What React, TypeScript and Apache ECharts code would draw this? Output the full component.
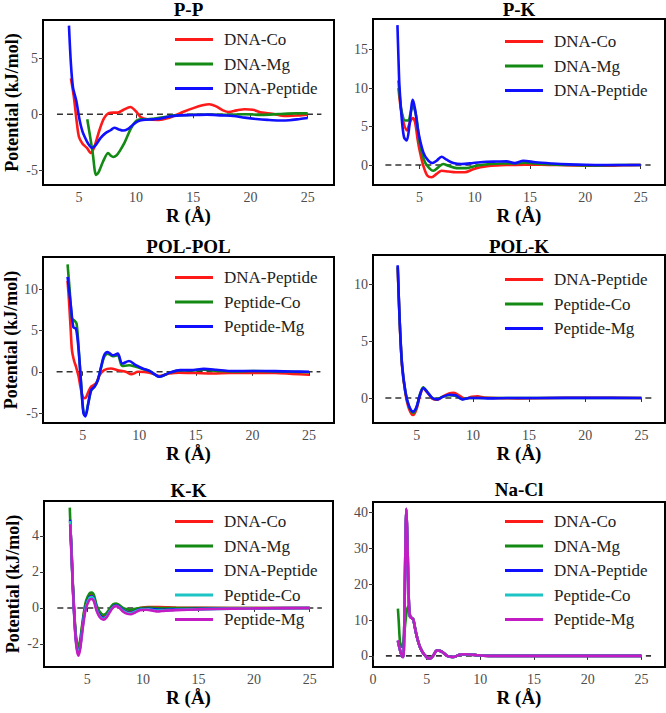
import React, { useEffect, useRef } from 'react';
import * as echarts from 'echarts';

type Pt = [number, number];

// ---------- DATA ----------
const panelTitles = ['P-P', 'P-K', 'POL-POL', 'POL-K', 'K-K', 'Na-Cl'];

// P-P
const ppDnaCo: Pt[] = [[4.3, 3.2], [4.55, 1.6], [4.8, -0.6], [5.0, -2.0], [5.3, -2.6], [5.7, -3.0], [6.05, -3.45], [6.35, -2.9], [6.8, -1.4], [7.2, -0.35], [7.6, 0.1], [8.0, 0.15], [8.4, 0.15], [8.9, 0.4], [9.5, 0.65], [10.0, 0.25], [10.4, -0.25], [11.0, -0.45], [12.0, -0.5], [12.9, -0.3], [13.5, -0.05], [14.2, 0.25], [15.0, 0.55], [15.8, 0.8], [16.4, 0.9], [17.0, 0.7], [17.6, 0.35], [18.1, 0.2], [18.8, 0.35], [19.5, 0.45], [20.2, 0.4], [21.0, 0.15], [21.9, 0.05], [22.6, -0.1], [23.3, -0.15], [24.2, -0.1], [25.0, -0.03]];
const ppDnaMg: Pt[] = [[5.73, -0.45], [5.95, -1.8], [6.2, -3.4], [6.5, -5.4], [6.7, -5.2], [6.95, -4.6], [7.25, -3.9], [7.55, -3.45], [7.8, -3.7], [8.0, -3.8], [8.3, -3.65], [8.55, -3.3], [9.0, -2.5], [9.55, -1.25], [10.0, -0.6], [10.4, -0.45], [11.0, -0.45], [11.5, -0.4], [12.5, -0.25], [13.5, -0.1], [15.0, -0.05], [16.5, -0.02], [18.0, -0.05], [19.5, 0.0], [21.0, -0.05], [22.5, 0.02], [24.0, 0.08], [25.0, 0.08]];
const ppDnaPeptide: Pt[] = [[4.13, 7.9], [4.3, 4.5], [4.48, 2.4], [4.77, 1.2], [5.06, -0.5], [5.3, -1.5], [5.5, -2.0], [5.8, -2.6], [6.15, -3.0], [6.5, -2.7], [6.9, -2.1], [7.3, -1.7], [7.8, -1.4], [8.1, -1.2], [8.5, -1.35], [8.85, -1.45], [9.3, -1.3], [9.7, -0.95], [10.1, -0.65], [10.6, -0.5], [11.5, -0.45], [12.0, -0.4], [12.9, -0.2], [13.8, -0.1], [14.8, -0.07], [16.2, -0.03], [17.5, -0.1], [18.5, -0.15], [19.5, -0.3], [20.5, -0.42], [21.5, -0.5], [22.5, -0.55], [23.4, -0.53], [24.3, -0.42], [25.0, -0.33]];

// P-K
const pkDnaCo: Pt[] = [[3.1, 10.0], [3.3, 7.5], [3.55, 5.6], [3.85, 4.5], [4.15, 5.6], [4.4, 6.1], [4.6, 5.6], [4.85, 3.2], [5.05, 1.65], [5.35, -0.1], [5.7, -1.35], [6.1, -1.6], [6.55, -1.15], [7.0, -0.75], [7.6, -0.85], [8.3, -0.95], [9.1, -0.95], [9.85, -0.55], [10.5, -0.3], [11.1, -0.15], [12.0, -0.05], [13.0, 0.0], [14.5, 0.05], [16.0, 0.05], [17.5, 0.0], [19.0, -0.05], [20.5, -0.1], [22.0, -0.1], [23.5, -0.03], [25.0, 0.0]];
const pkDnaMg: Pt[] = [[3.1, 11.0], [3.25, 8.5], [3.4, 6.9], [3.7, 5.8], [4.0, 5.8], [4.2, 6.8], [4.4, 7.7], [4.7, 6.4], [5.05, 2.7], [5.5, 0.35], [5.95, -0.5], [6.25, -0.75], [6.7, -0.3], [7.15, 0.13], [7.6, -0.1], [8.35, -0.4], [9.25, -0.4], [10.15, -0.1], [11.4, 0.13], [12.5, 0.2], [13.5, 0.2], [14.5, 0.3], [15.5, 0.2], [17.0, 0.08], [19.0, 0.0], [21.0, -0.05], [23.0, 0.0], [25.0, 0.0]];
const pkDnaPeptide: Pt[] = [[3.01, 18.2], [3.1, 14.0], [3.19, 10.3], [3.4, 6.0], [3.61, 3.6], [3.85, 3.2], [4.09, 5.1], [4.4, 8.5], [4.6, 7.3], [4.9, 4.3], [5.35, 1.65], [5.8, 0.56], [6.19, 0.26], [6.55, 0.56], [7.0, 1.08], [7.45, 0.7], [8.06, 0.26], [8.8, 0.13], [9.86, 0.26], [11.07, 0.43], [12.0, 0.45], [12.9, 0.47], [13.6, 0.25], [14.4, 0.55], [15.5, 0.35], [17.0, 0.2], [18.5, 0.09], [20.0, 0.03], [21.5, 0.0], [23.0, 0.0], [25.0, 0.0]];

// POL-POL
const polpolDnaPeptide: Pt[] = [[3.67, 11.0], [3.8, 8.5], [3.95, 5.0], [4.06, 2.6], [4.25, 1.3], [4.42, 0.6], [4.65, -0.6], [4.86, -2.2], [5.1, -3.2], [5.3, -3.1], [5.45, -2.6], [5.75, -1.8], [6.19, -1.4], [6.5, -0.4], [6.9, 0.2], [7.5, 0.4], [8.1, 0.2], [8.8, 0.0], [9.3, -0.3], [9.9, 0.0], [10.9, -0.1], [11.8, -0.5], [12.7, -0.2], [13.5, -0.1], [15.0, -0.15], [16.5, -0.2], [18.0, -0.15], [20.0, -0.15], [22.0, -0.15], [23.5, -0.25], [25.0, -0.35]];
const polpolPeptideCo: Pt[] = [[3.67, 13.0], [3.85, 10.0], [4.05, 6.5], [4.27, 6.2], [4.47, 5.8], [4.65, 2.8], [4.86, -1.3], [5.07, -4.8], [5.25, -5.2], [5.5, -3.8], [5.75, -2.3], [6.05, -1.8], [6.34, -1.0], [6.63, 0.5], [6.9, 1.8], [7.2, 2.2], [7.65, 1.9], [8.1, 2.0], [8.5, 0.7], [9.1, 0.8], [9.7, 0.6], [10.3, 0.35], [10.9, 0.1], [11.8, -0.6], [12.7, -0.1], [13.6, 0.15], [14.5, 0.15], [15.7, 0.25], [17.0, 0.1], [18.5, 0.05], [20.0, 0.1], [22.0, 0.05], [25.0, -0.05]];
const polpolPeptideMg: Pt[] = [[3.67, 11.5], [3.97, 7.9], [4.18, 5.4], [4.42, 5.2], [4.65, 2.6], [4.86, -1.4], [5.07, -5.0], [5.25, -5.4], [5.5, -3.8], [5.75, -2.2], [6.05, -1.8], [6.34, -1.0], [6.63, 0.6], [6.9, 2.0], [7.2, 2.4], [7.65, 2.0], [8.1, 2.2], [8.5, 1.0], [9.1, 1.3], [9.7, 0.8], [10.3, 0.4], [10.9, 0.12], [11.8, -0.6], [12.7, -0.1], [13.6, 0.2], [14.6, 0.2], [15.7, 0.35], [16.8, 0.25], [18.0, 0.1], [20.0, 0.1], [22.0, 0.08], [23.5, 0.03], [25.0, 0.0]];

// POL-K
const polkDnaPeptide: Pt[] = [[3.3, 11.5], [3.48, 6.6], [3.69, 2.8], [3.99, 0.4], [4.29, -0.9], [4.67, -1.5], [4.97, -1.0], [5.27, 0.15], [5.57, 0.85], [5.93, 0.5], [6.38, -0.05], [6.82, -0.15], [7.27, 0.1], [7.87, 0.4], [8.3, 0.45], [8.8, 0.2], [9.3, -0.05], [9.9, 0.1], [10.4, 0.15], [11.0, 0.05], [12.0, 0.0], [14.0, -0.03], [17.0, 0.0], [20.0, 0.03], [25.0, 0.0]];
const polkPeptideCo: Pt[] = [[3.3, 11.6], [3.48, 6.7], [3.69, 2.9], [3.99, 0.5], [4.29, -0.7], [4.67, -1.3], [4.97, -0.85], [5.27, 0.3], [5.57, 0.95], [5.93, 0.55], [6.38, 0.0], [6.82, -0.1], [7.27, 0.1], [7.87, 0.25], [8.46, 0.2], [9.06, -0.1], [9.65, 0.0], [10.5, 0.0], [12.0, 0.0], [16.0, 0.0], [20.0, 0.0], [25.0, 0.0]];
const polkPeptideMg: Pt[] = [[3.3, 11.7], [3.48, 6.7], [3.69, 2.9], [3.99, 0.53], [4.29, -0.65], [4.67, -1.2], [4.97, -0.8], [5.27, 0.24], [5.57, 0.88], [5.93, 0.53], [6.38, 0.0], [6.82, -0.12], [7.27, 0.09], [7.87, 0.29], [8.46, 0.24], [9.06, -0.12], [9.65, 0.0], [10.5, 0.0], [11.5, -0.03], [13.0, 0.0], [16.0, 0.0], [20.0, 0.02], [25.0, 0.0]];

// K-K
const kkDnaCo: Pt[] = [[3.45, 4.8], [3.6, 2.9], [3.69, 1.3], [3.9, -1.1], [4.05, -2.0], [4.2, -2.25], [4.35, -1.95], [4.5, -1.2], [4.7, -0.3], [4.89, 0.3], [5.19, 0.7], [5.4, 0.75], [5.6, 0.6], [5.83, 0.05], [6.1, -0.3], [6.45, -0.45], [6.7, -0.4], [7.0, -0.1], [7.33, 0.12], [7.6, 0.18], [7.9, 0.1], [8.2, -0.05], [8.6, -0.15], [8.9, -0.18], [9.3, -0.1], [9.72, 0.0], [10.5, 0.05], [11.5, 0.05], [13.0, 0.02], [18.0, 0.0], [25.0, 0.0]];
const kkDnaMg: Pt[] = [[3.42, 5.57], [3.55, 3.3], [3.69, 1.4], [3.9, -1.0], [4.05, -1.9], [4.2, -2.1], [4.35, -1.8], [4.5, -1.1], [4.7, -0.2], [4.89, 0.4], [5.19, 0.8], [5.4, 0.85], [5.6, 0.7], [5.83, 0.15], [6.1, -0.2], [6.45, -0.38], [6.7, -0.3], [7.0, -0.05], [7.33, 0.2], [7.6, 0.25], [7.9, 0.15], [8.2, 0.0], [8.6, -0.08], [8.9, -0.1], [9.3, -0.05], [9.72, 0.0], [10.5, 0.02], [11.5, 0.0], [13.0, 0.0], [18.0, 0.0], [25.0, 0.0]];
const kkDnaPeptide: Pt[] = [[3.45, 4.9], [3.6, 2.8], [3.69, 1.25], [3.9, -1.2], [4.05, -2.15], [4.2, -2.45], [4.35, -2.15], [4.5, -1.4], [4.7, -0.45], [4.89, 0.15], [5.19, 0.6], [5.4, 0.65], [5.6, 0.5], [5.83, -0.05], [6.1, -0.4], [6.45, -0.55], [6.7, -0.48], [7.0, -0.18], [7.33, 0.08], [7.6, 0.15], [7.9, 0.05], [8.2, -0.12], [8.6, -0.25], [8.9, -0.27], [9.3, -0.18], [9.72, -0.08], [10.5, -0.05], [11.5, -0.1], [13.0, -0.08], [18.0, -0.03], [25.0, 0.0]];
const kkPeptideCo: Pt[] = [[3.45, 4.83], [3.6, 2.7], [3.69, 1.2], [3.9, -1.25], [4.05, -2.2], [4.2, -2.5], [4.35, -2.2], [4.5, -1.45], [4.7, -0.5], [4.89, 0.1], [5.19, 0.55], [5.4, 0.6], [5.6, 0.45], [5.83, -0.1], [6.1, -0.45], [6.45, -0.6], [6.7, -0.5], [7.0, -0.2], [7.33, 0.05], [7.6, 0.12], [7.9, 0.02], [8.2, -0.15], [8.6, -0.28], [8.9, -0.3], [9.3, -0.2], [9.72, -0.1], [10.5, -0.08], [11.3, -0.15], [13.0, -0.1], [18.0, -0.04], [25.0, 0.0]];
const kkPeptideMg: Pt[] = [[3.45, 4.65], [3.6, 2.6], [3.69, 1.2], [3.9, -1.3], [4.05, -2.3], [4.2, -2.65], [4.35, -2.3], [4.5, -1.55], [4.7, -0.6], [4.89, 0.0], [5.19, 0.45], [5.4, 0.5], [5.6, 0.35], [5.83, -0.15], [6.1, -0.5], [6.45, -0.65], [6.7, -0.55], [7.0, -0.25], [7.33, 0.03], [7.6, 0.1], [7.9, 0.0], [8.2, -0.2], [8.6, -0.33], [8.9, -0.35], [9.3, -0.25], [9.72, -0.13], [10.3, -0.1], [10.9, -0.15], [11.3, -0.2], [12.0, -0.15], [13.0, -0.12], [15.0, -0.08], [18.0, -0.04], [21.0, -0.02], [25.0, 0.0]];

// Na-Cl
const naclPeptideMg: Pt[] = [[2.32, 4.4], [2.45, 2.5], [2.57, 1.1], [2.72, -0.2], [2.82, -0.3], [2.9, 6.0], [2.97, 20.0], [3.05, 36.0], [3.1, 41.2], [3.17, 36.0], [3.25, 26.0], [3.33, 16.0], [3.44, 11.0], [3.6, 10.6], [3.75, 10.2], [3.9, 8.0], [4.05, 5.8], [4.25, 3.6], [4.43, 2.1], [4.65, 0.9], [4.89, 0.0], [5.1, -0.6], [5.3, -0.75], [5.5, -0.3], [5.66, 0.3], [5.85, 1.3], [5.97, 1.6], [6.2, 1.45], [6.44, 1.1], [6.7, 0.5], [6.9, 0.0], [7.2, -0.25], [7.52, -0.3], [7.8, 0.0], [8.14, 0.4], [8.6, 0.45], [9.07, 0.4], [9.7, 0.2], [10.3, 0.05], [11.5, 0.0], [14.0, 0.0], [18.0, 0.0], [25.0, 0.0]];
const naclDnaCo: Pt[] = [[2.32, 4.2], [2.45, 2.4], [2.57, 1.0], [2.72, -0.2], [2.82, -0.3], [2.9, 6.0], [2.97, 20.0], [3.05, 36.0], [3.1, 41.0], [3.17, 36.0], [3.25, 26.0], [3.33, 16.0], [3.44, 11.0], [3.6, 10.6], [3.75, 10.2], [3.9, 8.0], [4.05, 5.8], [4.25, 3.6], [4.43, 2.1], [4.65, 0.9], [4.89, 0.0], [5.1, -0.6], [5.3, -0.75], [5.5, -0.3], [5.66, 0.3], [5.85, 1.3], [5.97, 1.6], [6.2, 1.45], [6.44, 1.1], [6.7, 0.5], [6.9, 0.0], [7.2, -0.25], [7.52, -0.3], [7.8, 0.0], [8.14, 0.4], [8.6, 0.45], [9.07, 0.4], [9.7, 0.2], [10.3, 0.05], [11.5, 0.0], [14.0, 0.0], [18.0, 0.0], [25.0, 0.0]];
const naclDnaMg: Pt[] = [[2.32, 13.2], [2.4, 9.5], [2.51, 4.0], [2.62, 2.7], [2.72, 2.5], [2.85, 4.5], [2.97, 8.0], [3.1, 11.5], [3.25, 13.8], [3.34, 13.5], [3.45, 11.5], [3.6, 10.6], [3.75, 10.2], [3.9, 8.0], [4.05, 5.8], [4.25, 3.6], [4.43, 2.1], [4.65, 0.9], [4.89, 0.0], [5.1, -0.6], [5.3, -0.75], [5.5, -0.3], [5.66, 0.3], [5.85, 1.3], [5.97, 1.6], [6.2, 1.45], [6.44, 1.1], [6.7, 0.5], [6.9, 0.0], [7.2, -0.25], [7.52, -0.3], [7.8, 0.0], [8.14, 0.4], [8.6, 0.45], [9.07, 0.4], [9.7, 0.2], [10.3, 0.05], [11.5, 0.0], [14.0, 0.0], [18.0, 0.0], [25.0, 0.0]];
const naclDnaPeptide: Pt[] = naclDnaCo;
const naclPeptideCo: Pt[] = naclDnaCo;

// series names per panel
const namesA = ['DNA-Co', 'DNA-Mg', 'DNA-Peptide'];
const namesB = ['DNA-Peptide', 'Peptide-Co', 'Peptide-Mg'];
const namesC = ['DNA-Co', 'DNA-Mg', 'DNA-Peptide', 'Peptide-Co', 'Peptide-Mg'];

const panelSeries: Pt[][][] = [
  [ppDnaCo, ppDnaMg, ppDnaPeptide],
  [pkDnaCo, pkDnaMg, pkDnaPeptide],
  [polpolDnaPeptide, polpolPeptideCo, polpolPeptideMg],
  [polkDnaPeptide, polkPeptideCo, polkPeptideMg],
  [kkDnaCo, kkDnaMg, kkDnaPeptide, kkPeptideCo, kkPeptideMg],
  [naclDnaCo, naclDnaMg, naclDnaPeptide, naclPeptideCo, naclPeptideMg],
];
const panelNames = [namesA, namesA, namesB, namesB, namesC, namesC];

// axis limits and ticks
const xLimits: Pt[] = [[1.86, 27.3], [0.8, 27.2], [1.5, 27.2], [1.1, 27.1], [1.1, 27.1], [0.0, 27.2]];
const yLimits: Pt[] = [[-6.3, 8.4], [-2.6, 19.0], [-6.2, 13.9], [-2.2, 12.6], [-3.28, 5.94], [-3.1, 43.0]];
const xTickValues = [
  [5, 10, 15, 20, 25], [5, 10, 15, 20, 25], [5, 10, 15, 20, 25],
  [5, 10, 15, 20, 25], [5, 10, 15, 20, 25], [0, 5, 10, 15, 20, 25],
];
const yTickValues = [[-5, 0, 5], [0, 5, 10, 15], [-5, 0, 5, 10], [0, 5, 10], [-2, 0, 2, 4], [0, 10, 20, 30, 40]];
// zero reference line extent (x from, x to)
const zeroLineRanges: Pt[] = [[3.08, 26.2], [1.92, 25.9], [2.7, 26.0], [2.2, 25.9], [2.3, 26.1], [1.2, 25.9]];

const xAxisTitle = 'R (Å)';
const yAxisTitle = 'Potential (kJ/mol)';

// ---------- STYLE / LAYOUT ----------
const colors = ['#ff1a1a', '#138a13', '#1010ff', '#1cc4c4', '#c41cc4'];
const FONT = 'Liberation Serif';
const grids = [
  { left: 43, top: 20, width: 291, height: 165 },
  { left: 373, top: 19, width: 292, height: 166 },
  { left: 43, top: 257, width: 291, height: 166 },
  { left: 373, top: 255, width: 292, height: 168 },
  { left: 44, top: 501, width: 289, height: 166 },
  { left: 373, top: 502, width: 292, height: 165 },
];
const titleTops = [0, 0, 237, 237, 481, 480];
const legendPos = [
  { left: 175, top: 31 },
  { left: 505, top: 33 },
  { left: 175, top: 269 },
  { left: 505, top: 271 },
  { left: 175, top: 513 },
  { left: 505, top: 513 },
];

export default function App() {
  const ref = useRef<HTMLDivElement>(null);
  useEffect(() => {
    document.body.style.margin = '0';
    if (!ref.current) return;
    const chart = echarts.init(ref.current, undefined, { renderer: 'svg' });

    const series: any[] = [];
    panelSeries.forEach((list, i) => {
      series.push({
        type: 'line',
        xAxisIndex: i,
        yAxisIndex: i,
        data: [[zeroLineRanges[i][0], 0], [zeroLineRanges[i][1], 0]],
        symbol: 'none',
        silent: true,
        lineStyle: { color: '#333', width: 1.6, type: [6, 4] },
        z: 1,
      });
      list.forEach((d, j) => {
        series.push({
          type: 'line',
          name: `${panelTitles[i]}|${panelNames[i][j]}`,
          xAxisIndex: i,
          yAxisIndex: i,
          data: d,
          symbol: 'none',
          smooth: 0.3,
          color: colors[j],
          lineStyle: { color: colors[j], width: 2.6 },
          z: 2 + j,
        });
      });
    });

    const leftCol = (i: number) => i % 2 === 0;

    const option: any = {
      animation: false,
      title: panelTitles.map((t, i) => ({
        text: t,
        left: grids[i].left + grids[i].width / 2,
        top: titleTops[i],
        textAlign: 'center',
        padding: 0,
        textStyle: { fontFamily: FONT, fontSize: 19, fontWeight: 'bold', color: '#000' },
      })),
      grid: grids.map((g) => ({
        ...g,
        show: true,
        borderColor: '#000',
        borderWidth: 2,
        backgroundColor: 'transparent',
        containLabel: false,
      })),
      legend: panelTitles.map((t, i) => ({
        data: panelNames[i].map((n) => `${t}|${n}`),
        formatter: (n: string) => n.split('|')[1],
        orient: 'vertical',
        left: legendPos[i].left,
        top: legendPos[i].top,
        padding: 0,
        icon: 'rect',
        itemWidth: 38,
        itemHeight: 3,
        itemGap: 7.5,
        selectedMode: false,
        textStyle: { fontFamily: FONT, fontSize: 17, color: '#222', lineHeight: 17, padding: [0, 0, 0, 6] },
      })),
      xAxis: panelTitles.map((t, i) => ({
        type: 'value',
        gridIndex: i,
        min: xLimits[i][0],
        max: xLimits[i][1],
        name: xAxisTitle,
        nameLocation: 'middle',
        nameGap: 21,
        nameTextStyle: { fontFamily: FONT, fontSize: 19, fontWeight: 'bold', color: '#000' },
        axisLine: { show: false },
        splitLine: { show: false },
        axisTick: { show: true, length: 4, lineStyle: { color: '#333', width: 1 }, customValues: xTickValues[i] },
        axisLabel: {
          customValues: xTickValues[i],
          margin: 5,
          fontFamily: FONT,
          fontSize: 14,
          color: '#4d4d4d',
        },
      })),
      yAxis: panelTitles.map((t, i) => ({
        type: 'value',
        gridIndex: i,
        min: yLimits[i][0],
        max: yLimits[i][1],
        name: leftCol(i) ? yAxisTitle : '',
        nameLocation: 'middle',
        nameGap: 22,
        nameTextStyle: { fontFamily: FONT, fontSize: 18, fontWeight: 'bold', color: '#000' },
        axisLine: { show: false },
        splitLine: { show: false },
        axisTick: { show: true, length: 4, lineStyle: { color: '#333', width: 1 }, customValues: yTickValues[i] },
        axisLabel: {
          customValues: yTickValues[i],
          margin: 5,
          fontFamily: FONT,
          fontSize: 14,
          color: '#4d4d4d',
        },
      })),
      series,
    };
    chart.setOption(option);
    return () => chart.dispose();
  }, []);
  return <div ref={ref} style={{ width: 666, height: 713 }} />;
}
